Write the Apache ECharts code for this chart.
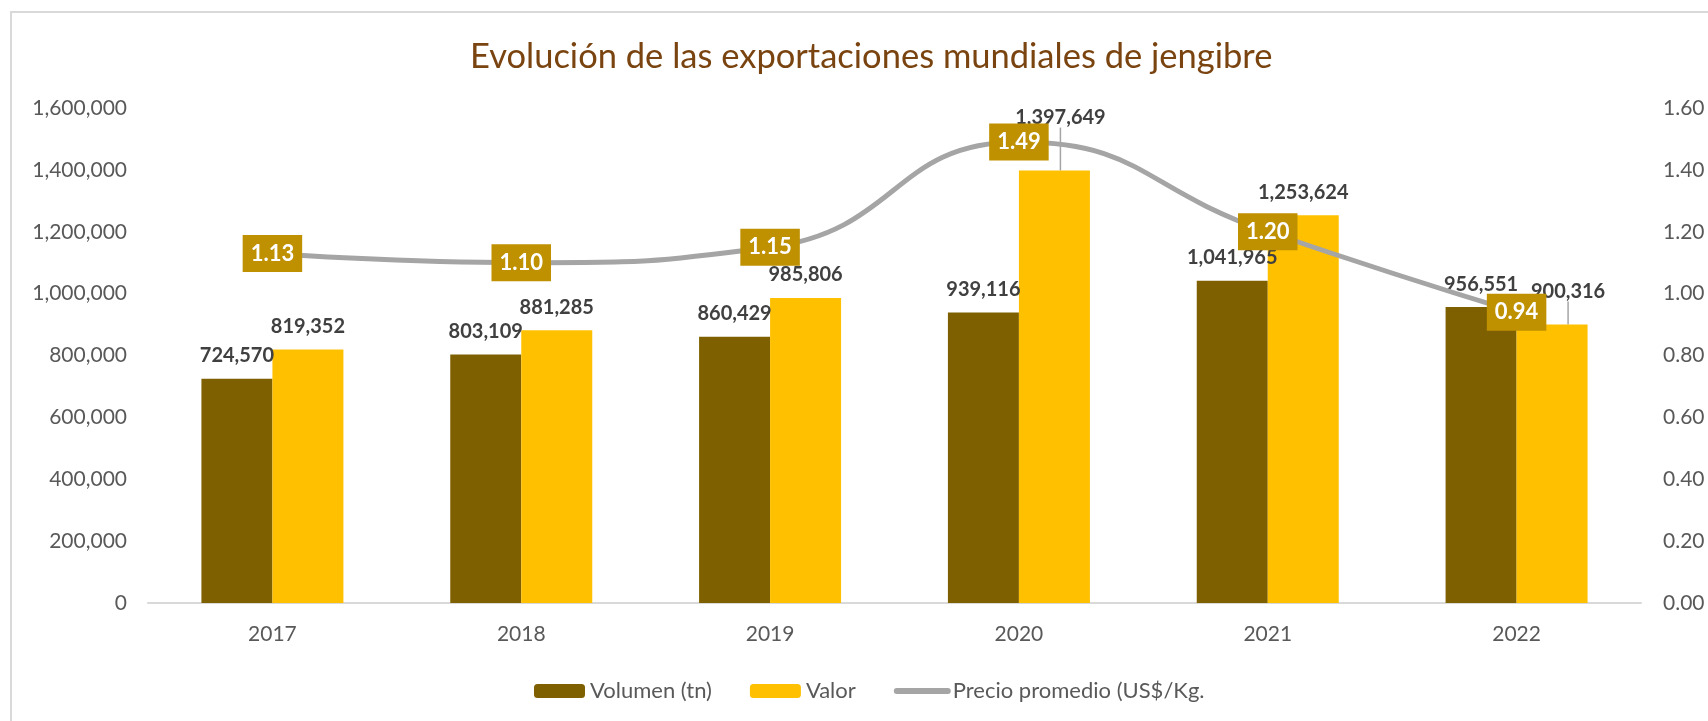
<!DOCTYPE html>
<html>
<head>
<meta charset="utf-8">
<title>Evolución de las exportaciones mundiales de jengibre</title>
<script src="https://cdn.jsdelivr.net/npm/echarts@6/dist/echarts.min.js"></script>
<style>
  html, body { margin: 0; padding: 0; background: #fff; }
  #chart { width: 1708px; height: 721px; }
</style>
</head>
<body>
<div id="chart"></div>
<script>
// datos del grafico
var years = ['2017', '2018', '2019', '2020', '2021', '2022'];
var volumen = [724570, 803109, 860429, 939116, 1041965, 956551];
var valor = [819352, 881285, 985806, 1397649, 1253624, 900316];
var precio = [1.13, 1.10, 1.15, 1.49, 1.20, 0.94];

var leftMax = 1600000, leftStep = 200000;
var rightMax = 1.6, rightStep = 0.2;

// etiquetas de "Valor" movidas a mano en el original (dx, dy)
var valorNudge = { 3: [6, -30], 5: [16, -10] };

var FONT = 'Lato';
var fmtMiles = function (v) { return Number(v).toLocaleString('en-US'); };

var barLabel = {
  show: true,
  position: 'top',
  distance: 13,
  fontFamily: FONT,
  fontSize: 20,
  fontWeight: 'bold',
  color: '#404040',
  formatter: function (p) { return fmtMiles(p.value); }
};

var chart = echarts.init(document.getElementById('chart'));
chart.setOption({
  backgroundColor: '#fff',
  animation: false,
  textStyle: { fontFamily: FONT },
  graphic: [{
    type: 'rect',
    shape: { x: 11, y: 12, width: 1720, height: 740 },
    style: { fill: 'none', stroke: '#D9D9D9', lineWidth: 2 },
    silent: true
  }],
  title: {
    text: 'Evolución de las exportaciones mundiales de jengibre',
    left: 465,
    top: 34,
    textStyle: { fontFamily: FONT, fontSize: 34.5, fontWeight: 'normal', color: '#7A4410' }
  },
  legend: {
    left: 529,
    top: 675,
    itemWidth: 51,
    itemHeight: 14,
    itemGap: 38,
    textStyle: { fontFamily: FONT, fontSize: 22, color: '#595959' },
    data: [
      { name: 'Volumen (tn)' },
      { name: 'Valor' },
      { name: 'Precio promedio (US$/Kg.', itemStyle: { opacity: 0 }, lineStyle: { width: 6, cap: 'round' } }
    ]
  },
  grid: { left: 148, right: 67, top: 108, bottom: 118, containLabel: false },
  xAxis: {
    type: 'category',
    data: years,
    axisLine: { lineStyle: { color: '#D9D9D9', width: 2 } },
    axisTick: { show: false },
    axisLabel: { margin: 21, fontFamily: FONT, fontSize: 21, color: '#595959' }
  },
  yAxis: [{
    type: 'value',
    min: 0,
    max: leftMax,
    interval: leftStep,
    axisLine: { show: false },
    axisTick: { show: false },
    splitLine: { show: false },
    axisLabel: { margin: 21, fontFamily: FONT, fontSize: 21, color: '#595959', formatter: fmtMiles }
  }, {
    type: 'value',
    position: 'right',
    min: 0,
    max: rightMax,
    interval: rightStep,
    axisLine: { show: false },
    axisTick: { show: false },
    splitLine: { show: false },
    axisLabel: {
      margin: 22, fontFamily: FONT, fontSize: 21, color: '#595959',
      formatter: function (v) { return v.toFixed(2); }
    }
  }],
  series: [{
    name: 'Volumen (tn)',
    type: 'bar',
    data: volumen,
    barWidth: 71,
    barGap: '0%',
    itemStyle: { color: '#7F6000' },
    label: barLabel
  }, {
    name: 'Valor',
    type: 'bar',
    data: valor.map(function (v, i) {
      return valorNudge[i] ? { value: v, labelLine: { show: true } } : v;
    }),
    barWidth: 71,
    barGap: '0%',
    itemStyle: { color: '#FFC000' },
    label: barLabel,
    labelLine: { show: false, lineStyle: { color: '#A5A5A5', width: 1.5 } },
    labelLayout: function (p) {
      var n = valorNudge[p.dataIndex];
      return n ? { dx: n[0], dy: n[1] } : {};
    }
  }, {
    name: 'Precio promedio (US$/Kg.',
    type: 'line',
    yAxisIndex: 1,
    data: precio,
    smooth: 0.5,
    z: 5,
    symbol: 'circle',
    symbolSize: 2,
    itemStyle: { color: '#A5A5A5' },
    lineStyle: { color: '#A5A5A5', width: 5 },
    label: {
      show: true,
      position: 'inside',
      fontFamily: FONT,
      fontSize: 22,
      fontWeight: 'bold',
      color: '#fff',
      backgroundColor: '#BF9000',
      padding: [7, 8],
      lineHeight: 23,
      formatter: function (p) { return p.value.toFixed(2); }
    }
  }]
});
</script>
</body>
</html>
